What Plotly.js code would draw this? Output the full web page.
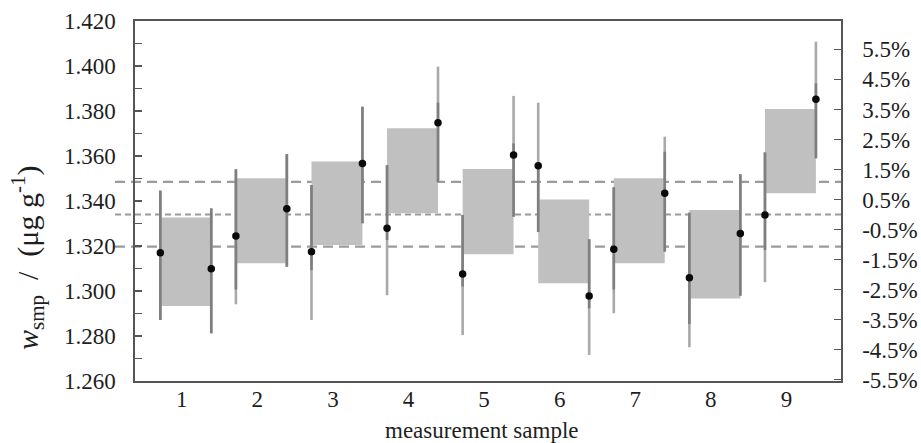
<!DOCTYPE html>
<html>
<head>
<meta charset="utf-8">
<script src="https://cdn.plot.ly/plotly-3.0.1.min.js"></script>
<style>html,body{margin:0;padding:0;background:#fff;}#chart{width:921px;height:443px;}</style>
</head>
<body>
<div id="chart"></div>
<script>
// ---- data ----
const samples = [1, 2, 3, 4, 5, 6, 7, 8, 9];
const tickLabels = ['1', '2', '3', '4', '5', '6', '7', '8', '9'];

const leftValue  = [1.3170, 1.3244, 1.3175, 1.3279, 1.3076, 1.3557, 1.3185, 1.3059, 1.3338];
const leftLow    = [1.2871, 1.2941, 1.2871, 1.2981, 1.2804, 1.3262, 1.2901, 1.2750, 1.3039];
const leftHigh   = [1.3446, 1.3541, 1.3471, 1.3559, 1.3338, 1.3837, 1.3461, 1.3348, 1.3616];
const leftInnerLow  = [1.2871, 1.3007, 1.3093, 1.3227, 1.3020, 1.3262, 1.3007, 1.2853, 1.3182];
const leftInnerHigh = [1.3446, 1.3541, 1.3471, 1.3559, 1.3338, 1.3557, 1.3461, 1.3348, 1.3616];

const rightValue = [1.3099, 1.3366, 1.3567, 1.3748, 1.3604, 1.2978, 1.3434, 1.3256, 1.3852];
const rightLow   = [1.2812, 1.3108, 1.3301, 1.3483, 1.3330, 1.2716, 1.3175, 1.2979, 1.3590];
const rightHigh  = [1.3367, 1.3609, 1.3819, 1.3997, 1.3867, 1.3230, 1.3686, 1.3519, 1.4108];
const rightInnerLow  = [1.2812, 1.3108, 1.3301, 1.3483, 1.3330, 1.2923, 1.3175, 1.2979, 1.3590];
const rightInnerHigh = [1.3367, 1.3609, 1.3819, 1.3837, 1.3656, 1.3230, 1.3619, 1.3519, 1.3923];

const boxTop    = [1.3327, 1.3501, 1.3576, 1.3723, 1.3542, 1.3407, 1.3501, 1.3360, 1.3809];
const boxBottom = [1.2933, 1.3123, 1.3204, 1.3345, 1.3163, 1.3034, 1.3123, 1.2967, 1.3434];

const refValue = 1.334;
const refUpper = 1.3485;
const refLower = 1.3197;

const yMin = 1.260, yMax = 1.420;
const pctTicks = [-5.5, -4.5, -3.5, -2.5, -1.5, -0.5, 0.5, 1.5, 2.5, 3.5, 4.5, 5.5];

// ---- layout helpers ----
const offset = 0.337;   // horizontal offset of the two determinations within a sample
const FONT = 'Liberation Serif';
const FS = 23;
const TXT = '#1e1e1e';
const darkGray = '#7f7f7f', lightGray = '#a9a9a9';

function segs(xs, lo, hi) {
  const X = [], Y = [];
  xs.forEach((x, i) => { X.push(x, x, null); Y.push(lo[i], hi[i], null); });
  return {X, Y};
}
const xLeft = samples.map(s => s - offset);
const xRight = samples.map(s => s + offset);

const traces = [];
function addBar(xs, lo, hi, color) {
  const s = segs(xs, lo, hi);
  traces.push({x: s.X, y: s.Y, mode: 'lines', type: 'scatter', line: {color: color, width: 2.6},
    hoverinfo: 'skip', showlegend: false, cliponaxis: false});
}
addBar(xLeft, leftLow, leftHigh, lightGray);
addBar(xRight, rightLow, rightHigh, lightGray);
addBar(xLeft, leftInnerLow, leftInnerHigh, darkGray);
addBar(xRight, rightInnerLow, rightInnerHigh, darkGray);
traces.push({x: xLeft.concat(xRight), y: leftValue.concat(rightValue), mode: 'markers', type: 'scatter',
  marker: {color: '#0a0a0a', size: 7.5}, showlegend: false, hoverinfo: 'skip'});
// invisible trace to anchor percent axis
traces.push({x: [samples[0]], y: [0], yaxis: 'y2', mode: 'markers', marker: {opacity: 0}, showlegend: false, hoverinfo: 'skip'});

const shapes = [];
samples.forEach((s, i) => {
  shapes.push({type: 'rect', xref: 'x', yref: 'y', x0: xLeft[i], x1: xRight[i], y0: boxBottom[i], y1: boxTop[i],
    fillcolor: '#c0c0c0', line: {width: 0}, layer: 'below'});
});
const extL = -20 / 706, extR = 1 + 2 / 706;
[[refUpper, '10px,6px'], [refValue, '6px,4px'], [refLower, '10px,6px']].forEach(([v, d]) => {
  shapes.push({type: 'line', xref: 'paper', yref: 'y', x0: extL, x1: extR, y0: v, y1: v,
    line: {color: '#9a9a9a', width: 2.2, dash: d}, layer: 'below'});
});

const pctRange = [(yMin / refValue - 1) * 100, (yMax / refValue - 1) * 100];
const tf = {family: FONT, size: FS, color: TXT};
const NB = '\u00a0';

const layout = {
  width: 921, height: 443,
  margin: {l: 135, r: 80, t: 21, b: 62, pad: 0},
  paper_bgcolor: '#fff', plot_bgcolor: '#fff',
  font: tf,
  showlegend: false,
  xaxis: {
    range: [0.328, 9.669], tickvals: samples, ticktext: tickLabels,
    showgrid: false, zeroline: false, showline: true, mirror: true, linecolor: '#555', linewidth: 1.6,
    ticks: '', ticklabelstandoff: -3, ticklabelshift: -4,
    tickfont: tf
  },
  yaxis: {
    range: [yMin, yMax], dtick: 0.02, tick0: 1.26, tickformat: '.3f',
    showgrid: false, zeroline: false, showline: true, linecolor: '#555', linewidth: 1.6,
    ticks: 'inside', ticklen: 7, tickcolor: '#555', tickwidth: 1.4,
    minor: {dtick: 0.01, ticks: 'inside', ticklen: 7, tickcolor: '#555', tickwidth: 1.4, showgrid: false},
    ticklabelstandoff: 13,
    tickfont: tf
  },
  yaxis2: {
    overlaying: 'y', side: 'right', range: pctRange,
    tickvals: pctTicks, ticktext: pctTicks.map(v => v.toFixed(1) + '%'),
    showgrid: false, zeroline: false, showline: true, linecolor: '#555', linewidth: 1.6,
    ticks: 'inside', ticklen: 7, tickcolor: '#555', tickwidth: 1.4,
    ticklabelstandoff: 15,
    tickfont: tf
  },
  shapes: shapes,
  annotations: [
    {text: 'measurement sample', xref: 'paper', yref: 'paper', x: (482 - 135) / 706, y: (381 - 430) / 360,
      xanchor: 'center', yanchor: 'middle', showarrow: false, font: tf},
    {text: '<i>w</i><sub>smp</sub>' + NB + NB + '/' + NB + NB + '(μg' + NB + 'g<sup>-1</sup>)', xref: 'paper', yref: 'paper',
      x: (27 - 135) / 706, y: (381 - 258) / 360, textangle: -90,
      xanchor: 'center', yanchor: 'middle', showarrow: false, font: {family: FONT, size: 30, color: TXT}}
  ]
};

Plotly.newPlot('chart', traces, layout, {staticPlot: true, displayModeBar: false});
</script>
</body>
</html>
